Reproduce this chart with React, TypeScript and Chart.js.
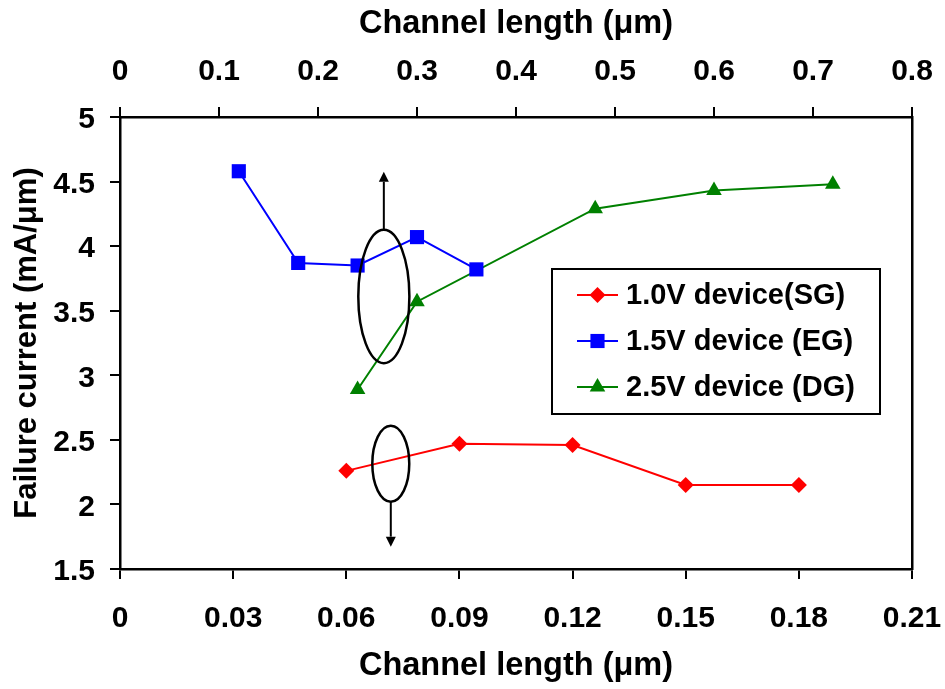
import React, { useEffect, useRef } from 'react';
import { Chart, registerables } from 'chart.js';

Chart.register(...registerables);

// ---- Data ----
const bottomTicks = [0, 0.03, 0.06, 0.09, 0.12, 0.15, 0.18, 0.21];
const bottomTickLabels = ['0', '0.03', '0.06', '0.09', '0.12', '0.15', '0.18', '0.21'];
const topTicks = [0, 0.1, 0.2, 0.3, 0.4, 0.5, 0.6, 0.7, 0.8];
const topTickLabels = ['0', '0.1', '0.2', '0.3', '0.4', '0.5', '0.6', '0.7', '0.8'];
const yTicks = [1.5, 2, 2.5, 3, 3.5, 4, 4.5, 5];
const yTickLabels = ['1.5', '2', '2.5', '3', '3.5', '4', '4.5', '5'];

const seriesNames = ['1.0V device(SG)', '1.5V device (EG)', '2.5V device (DG)'];
const seriesColors = ['#FF0000', '#0000FF', '#008000'];

// 1.0V device, plotted on bottom axis
const sgX = [0.06, 0.09, 0.12, 0.15, 0.18];
const sgY = [2.26, 2.47, 2.46, 2.15, 2.15];
// 1.5V device, plotted on top axis
const egX = [0.12, 0.18, 0.24, 0.3, 0.36];
const egY = [4.58, 3.87, 3.85, 4.07, 3.82];
// 2.5V device, plotted on top axis
const dgX = [0.24, 0.3, 0.48, 0.6, 0.72];
const dgY = [2.89, 3.57, 4.29, 4.43, 4.48];

const xTitle = 'Channel length (μm)';
const yTitle = 'Failure current (mA/μm)';

// Annotation ellipses (data units) with arrows pointing to the axis they refer to
const ellipseAxes = ['x2', 'x'];
const ellipseCX = [0.2665, 0.0718];
const ellipseCY = [3.61, 2.315];
const ellipseRX = [0.0258, 0.0049];
const ellipseRY = [0.516, 0.294];
const arrowTipY = [4.576, 1.673];

const FONT = "'Liberation Sans', Arial, Helvetica, sans-serif";

const toPts = (xs: number[], ys: number[]) => xs.map((x, i) => ({ x, y: ys[i] }));

const ellipsePlugin = {
  id: 'ellipses',
  afterDatasetsDraw(chart: any) {
    const ctx = chart.ctx;
    const ys = chart.scales.y;
    for (let i = 0; i < ellipseAxes.length; i++) {
      const xs = chart.scales[ellipseAxes[i]];
      const cx = xs.getPixelForValue(ellipseCX[i]);
      const cy = ys.getPixelForValue(ellipseCY[i]);
      const rx = Math.abs(xs.getPixelForValue(ellipseCX[i] + ellipseRX[i]) - cx);
      const ry = Math.abs(ys.getPixelForValue(ellipseCY[i] + ellipseRY[i]) - cy);
      const tip = ys.getPixelForValue(arrowTipY[i]);
      const dir = tip < cy ? -1 : 1;
      const start = cy + dir * ry;
      const headLen = 10;
      const headW = 5;
      ctx.save();
      ctx.strokeStyle = '#000';
      ctx.fillStyle = '#000';
      ctx.lineWidth = 2.5;
      ctx.beginPath();
      ctx.ellipse(cx, cy, rx, ry, 0, 0, Math.PI * 2);
      ctx.stroke();
      ctx.lineWidth = 2;
      ctx.beginPath();
      ctx.moveTo(cx, start);
      ctx.lineTo(cx, tip - dir * headLen);
      ctx.stroke();
      ctx.beginPath();
      ctx.moveTo(cx, tip);
      ctx.lineTo(cx - headW, tip - dir * headLen);
      ctx.lineTo(cx + headW, tip - dir * headLen);
      ctx.closePath();
      ctx.fill();
      ctx.restore();
    }
  },
};

function drawMarker(ctx: CanvasRenderingContext2D, style: string, x: number, y: number, r: number) {
  ctx.beginPath();
  if (style === 'rectRot') {
    ctx.moveTo(x - r, y);
    ctx.lineTo(x, y - r);
    ctx.lineTo(x + r, y);
    ctx.lineTo(x, y + r);
  } else if (style === 'rect') {
    const s = r * Math.SQRT1_2;
    ctx.rect(x - s, y - s, 2 * s, 2 * s);
  } else {
    ctx.moveTo(x, y - r);
    ctx.lineTo(x + r * Math.sin((2 * Math.PI) / 3), y - r * Math.cos((2 * Math.PI) / 3));
    ctx.lineTo(x + r * Math.sin((4 * Math.PI) / 3), y - r * Math.cos((4 * Math.PI) / 3));
  }
  ctx.closePath();
  ctx.fill();
}

const markerStyles = ['rectRot', 'rect', 'triangle'];
const markerRadii = [8, 10, 9];

const legendPlugin = {
  id: 'insideLegend',
  afterDraw(chart: any) {
    const ctx = chart.ctx;
    const ca = chart.chartArea;
    const left = ca.left + 432;
    const top = ca.top + 152;
    const w = 328;
    const h = 145;
    ctx.save();
    ctx.fillStyle = '#fff';
    ctx.fillRect(left, top, w, h);
    ctx.strokeStyle = '#000';
    ctx.lineWidth = 2;
    ctx.strokeRect(left, top, w, h);
    ctx.font = `bold 29px ${FONT}`;
    ctx.textBaseline = 'middle';
    ctx.textAlign = 'left';
    for (let i = 0; i < seriesNames.length; i++) {
      const cy = top + 26 + i * 46;
      ctx.strokeStyle = seriesColors[i];
      ctx.fillStyle = seriesColors[i];
      ctx.lineWidth = 2;
      ctx.beginPath();
      ctx.moveTo(left + 25, cy);
      ctx.lineTo(left + 66, cy);
      ctx.stroke();
      drawMarker(ctx, markerStyles[i], left + 45.5, cy, markerRadii[i]);
      ctx.fillStyle = '#000';
      ctx.fillText(seriesNames[i], left + 74, cy + 1);
    }
    ctx.restore();
  },
};

function fixedTicks(values: number[]) {
  return (scale: any) => {
    scale.ticks = values.map((v) => ({ value: v }));
  };
}

function fitTo(dim: 'width' | 'height', size: number) {
  return (s: any) => {
    s[dim] = size;
    s.paddingLeft = 0;
    s.paddingRight = 0;
    s.paddingTop = 0;
    s.paddingBottom = 0;
  };
}

export default function App() {
  const ref = useRef<HTMLCanvasElement | null>(null);
  useEffect(() => {
    if (!ref.current) return;
    const tickFont = { family: FONT, size: 30, weight: 'bold' as const };
    const titleFont = { family: FONT, size: 32.5, weight: 'bold' as const };
    const gridOpts = {
      display: true,
      drawOnChartArea: false,
      drawTicks: true,
      tickLength: 10,
      color: '#000',
      lineWidth: 2,
    };
    const borderOpts = { display: true, color: '#000', width: 2.5 };
    const chart = new Chart(ref.current, {
      type: 'line',
      data: {
        datasets: [
          {
            label: seriesNames[0],
            data: toPts(sgX, sgY),
            xAxisID: 'x',
            yAxisID: 'y',
            borderColor: seriesColors[0],
            backgroundColor: seriesColors[0],
            borderWidth: 2,
            pointStyle: 'rectRot',
            pointRadius: markerRadii[0],
            pointBorderWidth: 0,
            tension: 0,
          },
          {
            label: seriesNames[1],
            data: toPts(egX, egY),
            xAxisID: 'x2',
            yAxisID: 'y',
            borderColor: seriesColors[1],
            backgroundColor: seriesColors[1],
            borderWidth: 2,
            pointStyle: 'rect',
            pointRadius: markerRadii[1],
            pointBorderWidth: 0,
            tension: 0,
          },
          {
            label: seriesNames[2],
            data: toPts(dgX, dgY),
            xAxisID: 'x2',
            yAxisID: 'y',
            borderColor: seriesColors[2],
            backgroundColor: seriesColors[2],
            borderWidth: 2,
            pointStyle: 'triangle',
            pointRadius: markerRadii[2],
            pointBorderWidth: 0,
            tension: 0,
          },
        ],
      },
      options: {
        responsive: false,
        animation: false,
        events: [],
        layout: { padding: { left: 0, right: 33, top: 0, bottom: 0 } },
        plugins: {
          legend: { display: false },
          tooltip: { enabled: false },
        },
        scales: {
          x: {
            type: 'linear',
            position: 'bottom',
            min: 0,
            max: 0.21,
            afterBuildTicks: fixedTicks(bottomTicks),
            afterFit: fitTo('height', 120),
            ticks: {
              autoSkip: false,
              maxRotation: 0,
              padding: 22,
              color: '#000',
              font: tickFont,
              callback: (_v: any, i: number) => bottomTickLabels[i],
            },
            grid: gridOpts,
            border: borderOpts,
            title: {
              display: true,
              text: xTitle,
              color: '#000',
              font: titleFont,
              padding: { top: 0, bottom: 3 },
            },
          },
          x2: {
            type: 'linear',
            position: 'top',
            min: 0,
            max: 0.8,
            afterBuildTicks: fixedTicks(topTicks),
            afterFit: fitTo('height', 117),
            ticks: {
              autoSkip: false,
              maxRotation: 0,
              padding: 17,
              color: '#000',
              font: tickFont,
              callback: (_v: any, i: number) => topTickLabels[i],
            },
            grid: gridOpts,
            border: borderOpts,
            title: {
              display: true,
              text: xTitle,
              color: '#000',
              font: titleFont,
              padding: { top: 5, bottom: 0 },
            },
          },
          y: {
            type: 'linear',
            position: 'left',
            min: 1.5,
            max: 5,
            afterBuildTicks: fixedTicks(yTicks),
            afterFit: fitTo('width', 120),
            ticks: {
              autoSkip: false,
              padding: 15,
              labelOffset: 3,
              color: '#000',
              font: tickFont,
              callback: (_v: any, i: number) => yTickLabels[i],
            },
            grid: gridOpts,
            border: borderOpts,
            title: {
              display: true,
              text: yTitle,
              color: '#000',
              font: { family: FONT, size: 31, weight: 'bold' as const },
              padding: { top: 9, bottom: 0 },
            },
          },
          y2: {
            type: 'linear',
            position: 'right',
            min: 1.5,
            max: 5,
            afterFit: fitTo('width', 0),
            ticks: { display: false },
            grid: { display: true, drawOnChartArea: false, drawTicks: false },
            border: borderOpts,
          },
        },
      },
      plugins: [ellipsePlugin, legendPlugin],
    } as any);
    return () => chart.destroy();
  }, []);
  return (
    <div style={{ position: 'absolute', left: 0, top: 0, width: 945, height: 689, background: '#fff' }}>
      <canvas ref={ref} width={945} height={689} style={{ display: 'block' }} />
    </div>
  );
}
